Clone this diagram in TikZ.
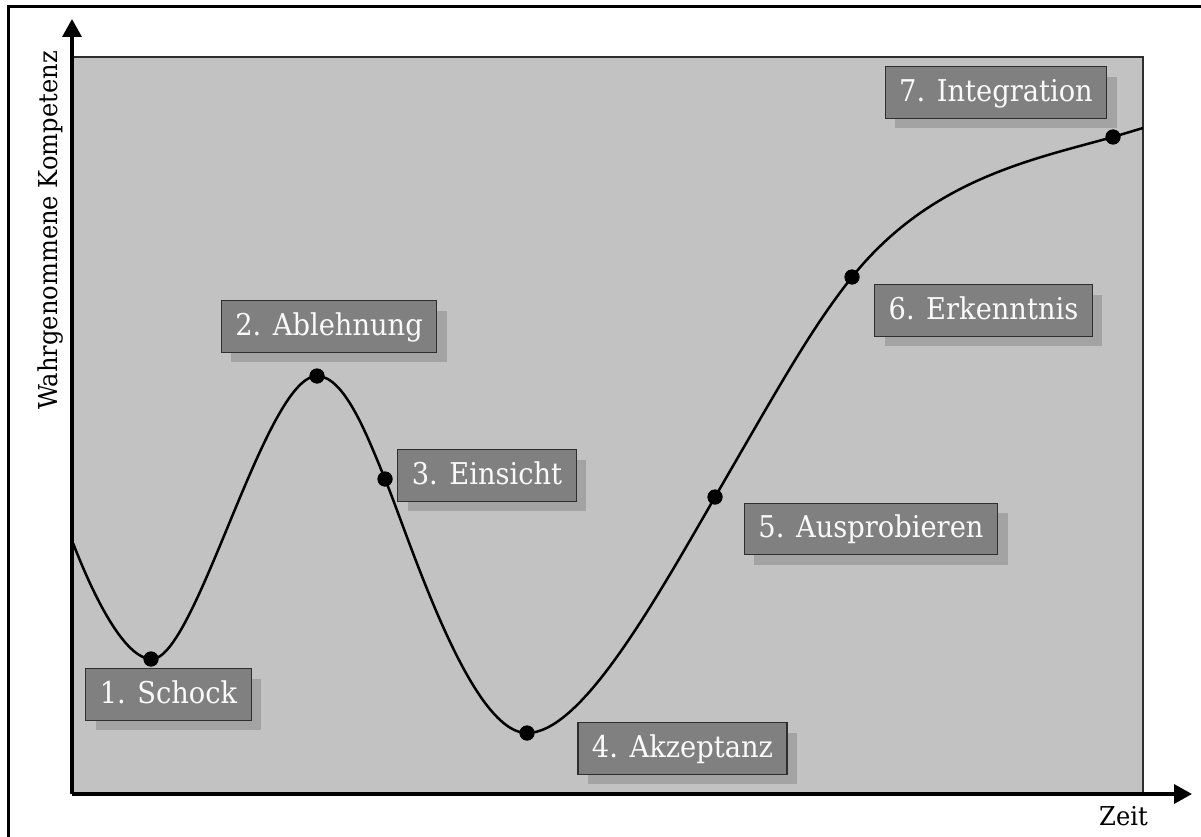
\documentclass[tikz,border=0pt]{standalone}
\usepackage{fontspec}
\setmainfont{DejaVu Serif}
\newfontfamily\phasefont[FakeStretch=0.91]{DejaVu Serif}
\newfontfamily\axisfont[FakeStretch=0.93]{DejaVu Serif}
\usetikzlibrary{arrows.meta,shadows}

\definecolor{plotbg}{HTML}{C2C2C2}
\definecolor{boxfill}{HTML}{808080}
\definecolor{boxshadow}{HTML}{A3A3A3}
\definecolor{boxline}{HTML}{2E2E2E}
\definecolor{boxtext}{HTML}{FAFAFA}

\tikzset{
  phase/.style={draw=boxline, line width=1.3pt, fill=boxfill, text=boxtext,
    font=\phasefont\fontsize{30pt}{32pt}\selectfont,
    inner xsep=14pt, inner ysep=12.5pt, text height=22pt, text depth=4.4pt,
    drop shadow={shadow xshift=10pt, shadow yshift=-10pt, fill=boxshadow, opacity=1}},
  milestone/.style={circle, fill=black, inner sep=0pt, minimum size=15pt},
  axis/.style={line width=3.5pt, -{Triangle[length=18pt,width=19pt]}},
  axislabel/.style={font=\axisfont\fontsize{26pt}{28pt}\selectfont, text=black},
  curve/.style={line width=2.5pt, black}
}

\begin{document}
\begin{tikzpicture}[x=1pt, y=-1pt]
  \useasboundingbox (0,0) rectangle (1201,837);
  \clip (0,0) rectangle (1201,837);
  \fill[white] (0,0) rectangle (1201,837);

  % outer frame (left and top edges fall on the page)
  \draw[line width=3pt] (8,900) -- (8,7) -- (1260,7);

  % plotting area
  \draw[fill=plotbg, draw=boxline, line width=1.3pt] (73,57) rectangle (1143,794);

  % milestones on the curve
  \node[milestone] (d1) at (151,659) {};
  \node[milestone] (d2) at (317,376) {};
  \node[milestone] (d3) at (385,479) {};
  \node[milestone] (d4) at (527,733) {};
  \node[milestone] (d5) at (715,497) {};
  \node[milestone] (d6) at (852,277) {};
  \node[milestone] (d7) at (1113,137) {};
  \coordinate (cstart) at (73,543);
  \coordinate (cend) at (1143,128);

  % competence curve
  \begin{scope}
    \clip (73,57) rectangle (1143,794);
    \draw[curve] (cstart)
      .. controls (95,600) and (125,658) .. (d1.center)
      .. controls (195,663) and (265,376) .. (d2.center)
      .. controls (345,376) and (368,438) .. (d3.center)
      .. controls (410,540) and (470,733) .. (d4.center)
      .. controls (580,733) and (650,610) .. (d5.center)
      .. controls (780,385) and (810,330) .. (d6.center)
      .. controls (930,180) and (1030,160) .. (d7.center)
      -- (cend);
  \end{scope}
  \foreach \d in {d1,d2,d3,d4,d5,d6,d7} \fill (\d) circle (7.5pt);

  % axes
  \coordinate (origin) at (72,794);
  \coordinate (ytip) at (72,19);
  \coordinate (xtip) at (1192,794);
  \draw[axis] (origin) -- (ytip);
  \draw[axis] (origin) -- (xtip);
  \node[axislabel, rotate=90, anchor=base] (ylabel) at (57,230.5) {Wahrgenommene Kompetenz};
  \node[axislabel, anchor=base] (xlabel) at (1123.5,825) {Zeit};

  % phase labels
  \node[phase] (l1) at (168.5,694.5) {1. Schock};
  \node[phase] (l2) at (329,326.5) {2. Ablehnung};
  \node[phase] (l3) at (487,475.5) {3. Einsicht};
  \node[phase] (l4) at (682.5,748.5) {4. Akzeptanz};
  \node[phase] (l5) at (871,529) {5. Ausprobieren};
  \node[phase] (l6) at (983.5,310.5) {6. Erkenntnis};
  \node[phase] (l7) at (996,92.5) {7. Integration};
\end{tikzpicture}
\end{document}
